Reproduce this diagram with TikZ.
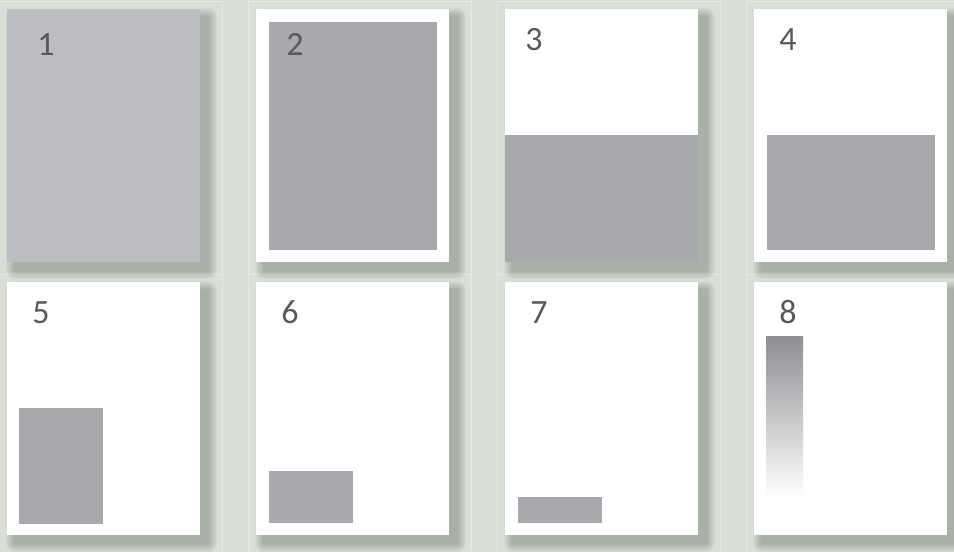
\documentclass[tikz,border=0pt]{standalone}
\usepackage{fontspec}
\setmainfont{Carlito}
\usepackage{xcolor}
\usepackage{tikz}
\usetikzlibrary{positioning}
\definecolor{bgcolor}{RGB}{217,223,213}
\definecolor{gridline}{RGB}{229,234,226}
\definecolor{sheetgray}{RGB}{189,190,194}
\definecolor{boxgray}{RGB}{168,169,173}
\definecolor{labelgray}{RGB}{89,89,89}
\definecolor{gradtop}{RGB}{142,142,147}
\definecolor{shadowtint}{RGB}{40,52,36}

\begin{document}
\begin{tikzpicture}[
    x=1pt, y=-1pt,
    sheet/.style={fill=white, inner sep=0pt, anchor=north west, minimum width=193pt, minimum height=253pt},
    haze/.style={fill=shadowtint, opacity=0.03},
    block/.style={fill=boxgray, inner sep=0pt, anchor=north west},
    cell/.style={draw=gridline, line width=0.8pt},
    num/.style={text=labelgray, inner sep=0pt, anchor=base, font=\fontsize{34}{40}\selectfont},
]
    \useasboundingbox (0,0) rectangle (954,552);
    \fill[bgcolor] (0,0) rectangle (954,552);

    % faint table cells
    \foreach \cx/\cw in {-2/224, 248/223, 497/223, 746/210} {
        \draw[cell] (\cx,1) rectangle ++(\cw,273);
        \draw[cell] (\cx,274) rectangle ++(\cw,290);
    }

    % soft shadows under the sheets
    \foreach \px/\py in {7/9, 256/9, 505/9, 754/9, 7/282, 256/282, 505/282, 754/282} {
        \foreach \k in {1,...,9} {
            \fill[haze, rounded corners=\k pt] (\px+8-\k,\py+8-\k) rectangle (\px+201+\k,\py+261+\k);
        }
    }

    % sheets
    \node[sheet, fill=sheetgray] (page1) at (7,9) {};
    \node[sheet] (page2) at (256,9) {};
    \node[sheet] (page3) at (505,9) {};
    \node[sheet] (page4) at (754,9) {};
    \node[sheet] (page5) at (7,282) {};
    \node[sheet] (page6) at (256,282) {};
    \node[sheet] (page7) at (505,282) {};
    \node[sheet] (page8) at (754,282) {};

    % gray areas
    \node[block, minimum width=168pt, minimum height=228pt] (fill2) at (269,22) {};
    \node[block, minimum width=193pt, minimum height=127pt] (fill3) at (505,135) {};
    \node[block, minimum width=168pt, minimum height=115pt] (fill4) at (767,135) {};
    \node[block, minimum width=84pt, minimum height=116pt] (fill5) at (19,408) {};
    \node[block, minimum width=84pt, minimum height=52pt] (fill6) at (269,471) {};
    \node[block, minimum width=84pt, minimum height=26pt] (fill7) at (518,497) {};
    \node[block, fill=none, top color=gradtop, bottom color=white, minimum width=37pt, minimum height=161pt] (fill8) at (766,336) {};

    % numbers
    \node[num] (num1) at (46,55) {1};
    \node[num] (num2) at (295,55) {2};
    \node[num] (num3) at (534,50) {3};
    \node[num] (num4) at (788,50) {4};
    \node[num] (num5) at (41,323) {5};
    \node[num] (num6) at (290,323) {6};
    \node[num] (num7) at (539,323) {7};
    \node[num] (num8) at (788,323) {8};
\end{tikzpicture}
\end{document}
